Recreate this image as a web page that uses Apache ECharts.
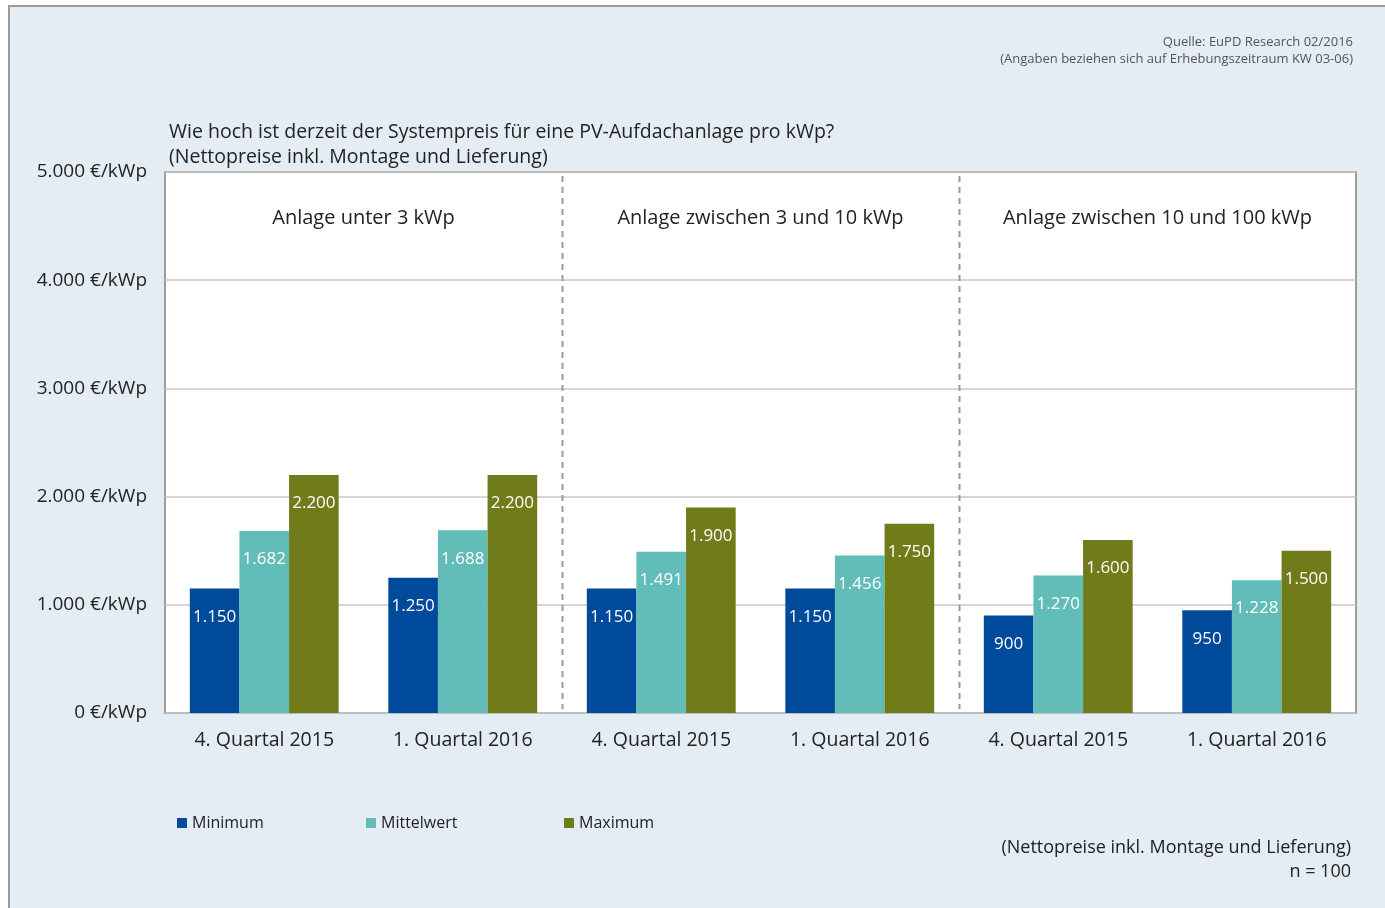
<!DOCTYPE html>
<html>
<head>
<meta charset="utf-8">
<script src="https://cdn.jsdelivr.net/npm/echarts@6/dist/echarts.min.js"></script>
<style>
  html, body { margin: 0; padding: 0; background: #fff; }
  #chart { width: 1385px; height: 908px; }
</style>
</head>
<body>
<div id="chart"></div>
<script>
// Quarterly system prices (EUR/kWp) for rooftop PV, three size classes
const categories = ['4. Quartal 2015', '1. Quartal 2016', '4. Quartal 2015', '1. Quartal 2016', '4. Quartal 2015', '1. Quartal 2016'];
const minimum    = [1150, 1250, 1150, 1150, 900, 950];
const mittelwert = [1682, 1688, 1491, 1456, 1270, 1228];
const maximum    = [2200, 2200, 1900, 1750, 1600, 1500];
const groupNames = ['Anlage unter 3 kWp', 'Anlage zwischen 3 und 10 kWp', 'Anlage zwischen 10 und 100 kWp'];
const yTicks = { min: 0, max: 5000, interval: 1000 };

const FONT = '"Open Sans", "Noto Sans", sans-serif';
const TEXT = '#222';
const COLORS = { Minimum: '#004a9c', Mittelwert: '#62bcb8', Maximum: '#6f7c19' };

const de = v => String(v).replace(/\B(?=(\d{3})+(?!\d))/g, '.');

const chart = echarts.init(document.getElementById('chart'), null, { renderer: 'canvas' });

function barSeries(name, values) {
  return {
    name, type: 'bar', data: values,
    barGap: 0, barCategoryGap: '25%',
    itemStyle: { color: COLORS[name] },
    label: {
      show: true, position: 'insideTop', distance: 20,
      color: '#fff', fontFamily: FONT, fontSize: 17,
      formatter: p => de(p.value)
    },
    emphasis: { disabled: true }
  };
}

function legendItem(name, left) {
  return {
    data: [name], left, top: 810, icon: 'rect',
    itemWidth: 10, itemHeight: 10, selectedMode: false,
    textStyle: { fontFamily: FONT, fontSize: 16, color: TEXT, padding: [2, 0, 0, 0] }
  };
}

chart.setOption({
  backgroundColor: '#fff',
  animation: false,
  textStyle: { fontFamily: FONT },
  grid: {
    left: 165, right: 29, top: 172, bottom: 195,
    show: true, backgroundColor: '#fff', borderColor: '#9c9c9c', borderWidth: 2
  },
  xAxis: {
    type: 'category', data: categories,
    axisLine: { show: false }, axisTick: { show: false },
    axisLabel: { color: TEXT, fontSize: 19.5, fontFamily: FONT, margin: 17, interval: 0 }
  },
  yAxis: {
    type: 'value', min: yTicks.min, max: yTicks.max, interval: yTicks.interval,
    axisLine: { show: false }, axisTick: { show: false },
    axisLabel: { color: TEXT, fontSize: 19, fontFamily: FONT, margin: 18, formatter: v => de(v) + ' €/kWp' },
    splitLine: { lineStyle: { color: '#c8c8c8', width: 1.5 } }
  },
  legend: [legendItem('Minimum', 172), legendItem('Mittelwert', 361), legendItem('Maximum', 559)],
  series: [
    barSeries('Minimum', minimum),
    barSeries('Mittelwert', mittelwert),
    barSeries('Maximum', maximum)
  ]
});

// Panel, headings, group captions and separators
function addDecor() {
  const yTop = chart.convertToPixel({ yAxisIndex: 0 }, yTicks.max);
  const yBase = chart.convertToPixel({ yAxisIndex: 0 }, 0);
  const catX = categories.map((_, i) => chart.convertToPixel({ xAxisIndex: 0 }, i));
  const rightText = (text, x, y, size, fill) => ({
    type: 'text', x, y, silent: true,
    style: { text, fill, font: size + 'px ' + FONT, align: 'right', verticalAlign: 'middle' }
  });
  const elements = [
    { type: 'rect', z: -10, silent: true,
      shape: { x: 9, y: 6, width: 1400, height: 950 },
      style: { fill: '#e4ecf4', stroke: '#9a9a9a', lineWidth: 2 } },
    { type: 'text', left: 169, top: 120, silent: true,
      style: { text: 'Wie hoch ist derzeit der Systempreis für eine PV-Aufdachanlage pro kWp?\n(Nettopreise inkl. Montage und Lieferung)',
               fill: TEXT, font: '19.5px ' + FONT, lineHeight: 25 } },
    rightText('Quelle: EuPD Research 02/2016', 1353, 42, 13, '#555'),
    rightText('(Angaben beziehen sich auf Erhebungszeitraum KW 03-06)', 1353, 59, 13, '#555'),
    rightText('(Nettopreise inkl. Montage und Lieferung)', 1351, 848, 18, TEXT),
    rightText('n = 100', 1351, 872, 18, TEXT)
  ];
  groupNames.forEach((g, k) => {
    const cx = (catX[2 * k] + catX[2 * k + 1]) / 2;
    elements.push({ type: 'text', x: cx, y: yTop + 46, silent: true,
      style: { text: g, fill: TEXT, font: '20px ' + FONT, align: 'center', verticalAlign: 'middle' } });
    if (k > 0) {
      const sx = Math.round((catX[2 * k - 1] + catX[2 * k]) / 2) + 0.5;
      elements.push({ type: 'line', silent: true, z: 1,
        shape: { x1: sx, y1: yTop + 4, x2: sx, y2: yBase - 4 },
        style: { stroke: '#9a9a9a', lineWidth: 2, lineDash: [6, 5] } });
    }
  });
  chart.setOption({ graphic: elements });
}
addDecor();
</script>
</body>
</html>
